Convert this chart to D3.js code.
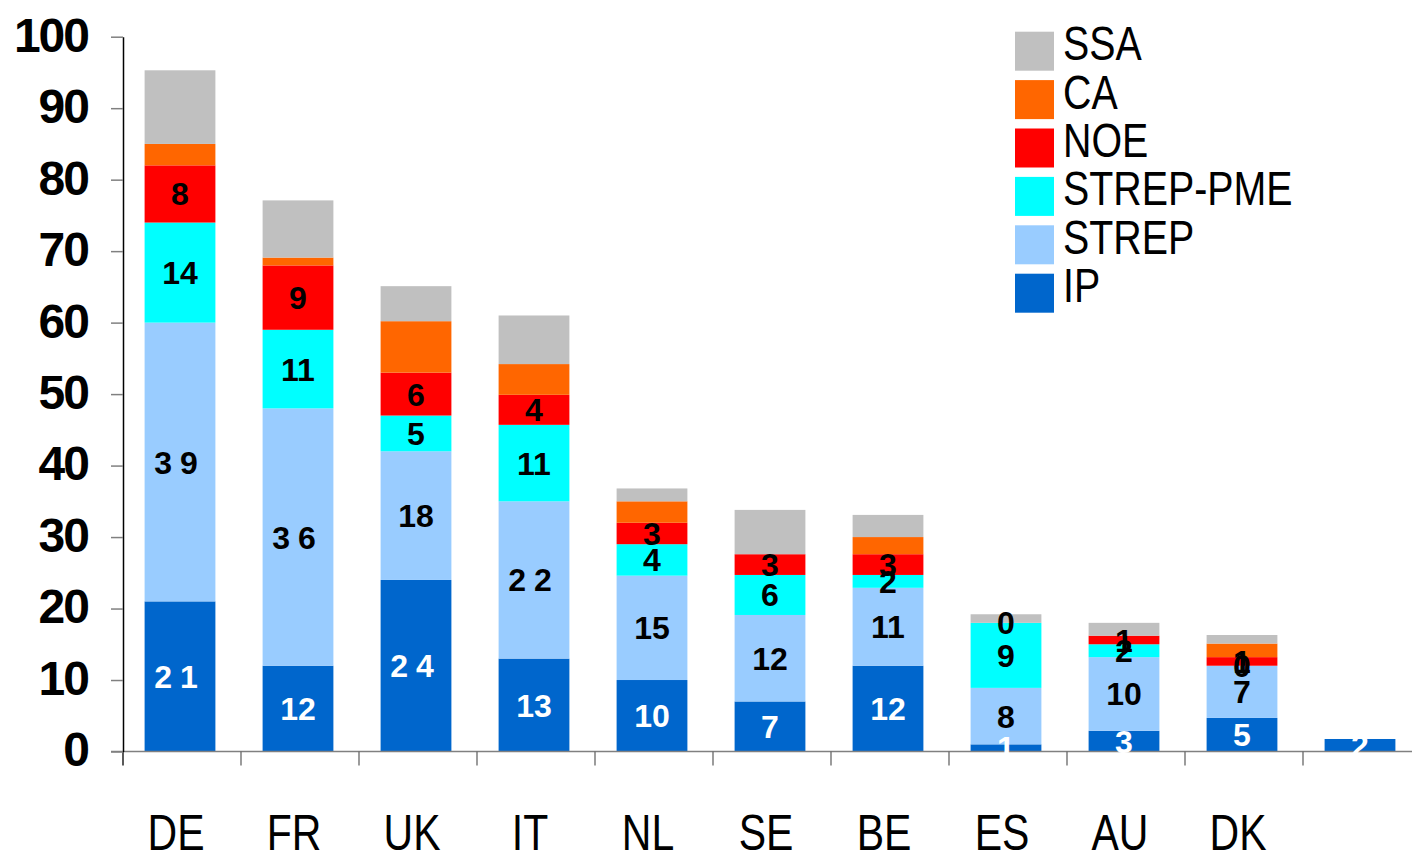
<!DOCTYPE html>
<html>
<head>
<meta charset="utf-8">
<script src="https://cdn.jsdelivr.net/npm/d3@7"></script>
<style>
  html, body { margin: 0; padding: 0; background: #fff; }
  svg { display: block; }
</style>
</head>
<body>
<svg id="chart" width="1412" height="851"></svg>
<script>
// categories (last bar has no label in the original)
const countries = ['DE', 'FR', 'UK', 'IT', 'NL', 'SE', 'BE', 'ES', 'AU', 'DK', ''];

// series, bottom to top
const seriesNames = ['IP', 'STREP', 'STREP-PME', 'NOE', 'CA', 'SSA'];
const seriesColors = ['#0066CC', '#99CCFF', '#00FFFF', '#FF0000', '#FF6600', '#C0C0C0'];

const ipValues       = [21, 12, 24, 13, 10, 7, 12, 1, 2.9, 4.7, 1.75];
const strepValues    = [39, 36, 18, 22, 14.6, 12.1, 10.9, 7.9, 10.3, 7.3, null];
const strepPmeValues = [14, 11, 5, 10.7, 4.4, 5.6, 1.8, 9.1, 1.8, 0, null];
const noeValues      = [8, 9, 6, 4.2, 3, 2.9, 2.9, 0, 1.2, 1.2, null];
const caValues       = [3, 1.1, 7.2, 4.3, 3, 0, 2.4, 0, 0, 1.9, null];
const ssaValues      = [10.3, 8, 4.9, 6.8, 1.8, 6.2, 3.1, 1.2, 1.8, 1.2, null];

// only these series carry value labels
const labelledSeries = ['IP', 'STREP', 'STREP-PME', 'NOE'];

const yTicks = [0, 10, 20, 30, 40, 50, 60, 70, 80, 90, 100];

const allValues = [ipValues, strepValues, strepPmeValues, noeValues, caValues, ssaValues];

const svg = d3.select('#chart');

const x = d3.scaleBand()
  .domain(countries)
  .range([121, 1419])
  .paddingInner(0.4)
  .paddingOuter(0.2);

const y = d3.scaleLinear()
  .domain([0, 100])
  .range([751.5, 36.7]);

const color = d3.scaleOrdinal().domain(seriesNames).range(seriesColors);

// stacked segments
const segments = [];
countries.forEach((c, i) => {
  let base = 0;
  seriesNames.forEach((s, k) => {
    const v = allValues[k][i];
    if (v === null) return;
    segments.push({ country: c, series: s, value: v, y0: base, y1: base + v });
    base += v;
  });
});

const bars = svg.append('g');
bars.selectAll('rect')
  .data(segments.filter(d => d.value > 0))
  .enter()
  .append('rect')
  .attr('x', d => x(d.country))
  .attr('width', x.bandwidth())
  .attr('y', d => y(d.y1))
  .attr('height', d => y(d.y0) - y(d.y1))
  .attr('fill', d => color(d.series));

// x axis line + category boundary ticks
const xAxis = svg.append('g');
xAxis.append('line')
  .attr('x1', 111).attr('x2', 1412)
  .attr('y1', y(0)).attr('y2', y(0))
  .attr('stroke', '#808080')
  .attr('stroke-width', 1.5);

const cellOffset = (x.step() - x.bandwidth()) / 2;
xAxis.selectAll('line.cat-tick')
  .data(countries)
  .enter()
  .append('line')
  .attr('class', 'cat-tick')
  .attr('x1', d => x(d) - cellOffset + 2)
  .attr('x2', d => x(d) - cellOffset + 2)
  .attr('y1', y(0))
  .attr('y2', y(0) + 14)
  .attr('stroke', (d, i) => i === 0 ? '#000' : '#666')
  .attr('stroke-width', 1.3);

// category labels, narrow like the original
xAxis.selectAll('text')
  .data(countries)
  .enter()
  .append('text')
  .attr('transform', d => `translate(${x(d) + x.bandwidth() / 2 - 4}, 850) scale(0.82, 1)`)
  .attr('text-anchor', 'middle')
  .attr('font-family', 'Liberation Sans, Arial, sans-serif')
  .attr('font-size', '50px')
  .attr('fill', '#000')
  .text(d => d);

// y axis
const yAxis = svg.append('g')
  .attr('transform', 'translate(123,0)')
  .call(d3.axisLeft(y).tickValues(yTicks).tickSize(12).tickSizeOuter(0).tickPadding(23));

yAxis.select('.domain').attr('stroke', '#000').attr('stroke-width', 1.5);
yAxis.selectAll('.tick line').attr('stroke', '#808080').attr('stroke-width', 1.5);
yAxis.selectAll('.tick text')
  .attr('font-family', 'Liberation Sans, Arial, sans-serif')
  .attr('font-size', '48px')
  .attr('font-weight', 'bold')
  .attr('letter-spacing', '-2px')
  .attr('dy', '0.3em')
  .attr('fill', '#000');

// value labels
svg.append('g')
  .selectAll('text')
  .data(segments.filter(d => labelledSeries.includes(d.series)))
  .enter()
  .append('text')
  .attr('x', d => x(d.country) + x.bandwidth() / 2)
  .attr('y', d => y((d.y0 + d.y1) / 2))
  .attr('dy', '0.36em')
  .attr('text-anchor', 'middle')
  .attr('font-family', 'Liberation Sans, Arial, sans-serif')
  .attr('font-size', '32px')
  .attr('font-weight', 'bold')
  .attr('letter-spacing', d => Math.round(d.value) >= 20 ? '8px' : '0px')
  .attr('fill', d => d.series === 'IP' ? '#fff' : '#000')
  .text(d => Math.round(d.value));

// legend (top series first)
const legendData = seriesNames.map((s, i) => ({ label: s, color: seriesColors[i] })).reverse();
const legend = svg.append('g').attr('transform', 'translate(1015, 31.7)');

const legendItems = legend.selectAll('.legend-item')
  .data(legendData)
  .enter()
  .append('g')
  .attr('class', 'legend-item')
  .attr('transform', (_, i) => `translate(0, ${i * 48.4})`);

legendItems.append('rect')
  .attr('width', 39)
  .attr('height', 39)
  .attr('fill', d => d.color);

legendItems.append('text')
  .attr('transform', 'translate(48, 28.5) scale(0.82, 1)')
  .attr('font-family', 'Liberation Sans, Arial, sans-serif')
  .attr('font-size', '48px')
  .attr('fill', '#000')
  .text(d => d.label);
</script>
</body>
</html>
